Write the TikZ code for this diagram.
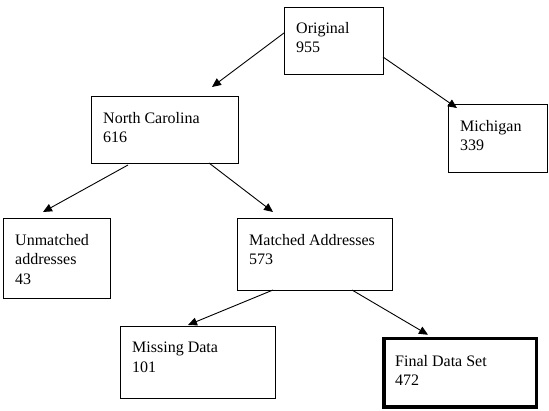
\documentclass[tikz,border=0pt]{standalone}
\usepackage{fontspec}
\setmainfont{Liberation Serif}
\usetikzlibrary{arrows.meta,calc}
\begin{document}
\begin{tikzpicture}[x=1pt,y=-1pt,
  box/.style={draw=black,line width=0.9pt,inner sep=0pt,outer sep=0pt},
  finalbox/.style={draw=black,line width=3.5pt,inner sep=0pt,outer sep=0pt},
  lbl/.style={anchor=north west,inner sep=0pt,align=left,font=\fontsize{16}{19.5}\selectfont},
  conn/.style={draw=black,line width=0.9pt,-{Triangle[length=9pt,width=8pt]}}]
\useasboundingbox (0,0) rectangle (549,411);
\node[box,minimum width=99pt,minimum height=67pt] (orig) at (333.5,40.5) {};
\node[box,minimum width=147pt,minimum height=67pt] (nc) at (164.5,129.5) {};
\node[box,minimum width=99pt,minimum height=68pt] (mich) at (497.5,138) {};
\node[box,minimum width=107pt,minimum height=80pt] (unm) at (56.5,258) {};
\node[box,minimum width=155pt,minimum height=72pt] (mat) at (314.5,254) {};
\node[box,minimum width=155pt,minimum height=72pt] (mis) at (197.5,362) {};
\node[finalbox,minimum width=152.5pt,minimum height=68.5pt] (fin) at (460,373) {};
\node[lbl] (torig) at (296,22) {Original\\955};
\node[lbl] (tnc) at (103,112) {North Carolina\\616};
\node[lbl] (tmich) at (460,120) {Michigan\\339};
\node[lbl] (tunm) at (15,234) {Unmatched\\addresses\\43};
\node[lbl] (tmat) at (249,234) {Matched Addresses\\573};
\node[lbl] (tmis) at (132,342) {Missing Data\\101};
\node[lbl] (tfin) at (395,355) {Final Data Set\\472};
\draw[conn] ($(orig.west)+(0,-7.5)$) -- ($(nc.north)+(47.5,-9)$);
\draw[conn] ($(orig.east)+(0,16.5)$) -- ($(mich.north)+(-40.5,4)$);
\draw[conn] ($(nc.south)+(-36.5,2)$) -- ($(unm.north)+(-13.5,-6)$);
\draw[conn] ($(nc.south)+(44.5,0)$) -- ($(mat.north)+(-41.5,-6)$);
\draw[conn] ($(mat.south)+(-41.5,0)$) -- ($(mis.north)+(-9.5,-1)$);
\draw[conn] ($(mat.south)+(37.5,0)$) -- ($(fin.north)+(-32,-4)$);
\end{tikzpicture}
\end{document}
